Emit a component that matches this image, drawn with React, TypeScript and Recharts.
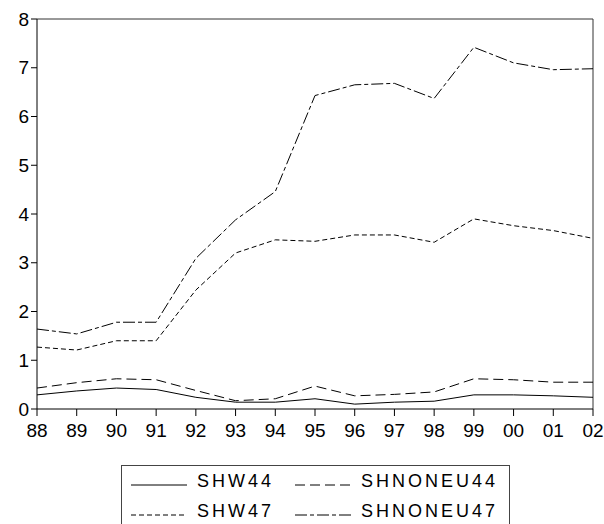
import React from "react";
import { LineChart, Line, XAxis, YAxis, ReferenceLine } from "recharts";

const years = ["88", "89", "90", "91", "92", "93", "94", "95", "96", "97", "98", "99", "00", "01", "02"];
const shw44 = [0.29, 0.37, 0.43, 0.4, 0.24, 0.14, 0.14, 0.21, 0.1, 0.14, 0.16, 0.29, 0.29, 0.27, 0.24];
const shw47 = [1.27, 1.21, 1.4, 1.4, 2.44, 3.2, 3.47, 3.44, 3.57, 3.57, 3.42, 3.9, 3.76, 3.66, 3.5];
const shnoneu44 = [0.43, 0.54, 0.62, 0.6, 0.38, 0.17, 0.21, 0.47, 0.27, 0.3, 0.35, 0.62, 0.6, 0.55, 0.55];
const shnoneu47 = [1.64, 1.54, 1.78, 1.78, 3.09, 3.88, 4.46, 6.43, 6.65, 6.68, 6.37, 7.42, 7.1, 6.96, 6.98];
const yTicks = [0, 1, 2, 3, 4, 5, 6, 7, 8];

const data = years.map((y, i) => ({
  year: y,
  SHW44: shw44[i],
  SHW47: shw47[i],
  SHNONEU44: shnoneu44[i],
  SHNONEU47: shnoneu47[i],
}));

const dashes: Record<string, string | undefined> = {
  SHW44: undefined,
  SHNONEU44: "10 5",
  SHW47: "5 3",
  SHNONEU47: "12 3 4 3",
};

// legend order: row by row, two columns
const legendRows = [
  ["SHW44", "SHNONEU44"],
  ["SHW47", "SHNONEU47"],
];

const font = "'Liberation Sans', Arial, sans-serif";
const tick = { fontSize: 19, fill: "#000", fontFamily: font };

const LegendItem = ({ name }: { name: string }) => (
  <div style={{ display: "flex", alignItems: "center", height: 30 }}>
    <svg width={56} height={18} style={{ marginRight: 10, display: "block" }}>
      <line x1={0} y1={13} x2={56} y2={13} stroke="#000" strokeWidth={1} strokeDasharray={dashes[name]} />
    </svg>
    <span style={{ fontSize: 18, letterSpacing: 3, fontFamily: font, color: "#000", width: 98, whiteSpace: "nowrap" }}>
      {name}
    </span>
  </div>
);

export default function App() {
  return (
    <div style={{ position: "absolute", left: 0, top: 0, width: 604, height: 524, background: "#fff", overflow: "hidden" }}>
      <LineChart width={604} height={524} data={data} margin={{ top: 19, right: 11, left: 0, bottom: 80 }}>
        <XAxis
          dataKey="year"
          height={35}
          stroke="#000"
          tickSize={7}
          tickMargin={8}
          tick={tick}
          interval={0}
        />
        <YAxis
          width={37}
          domain={[0, 8]}
          ticks={yTicks}
          stroke="#000"
          tickSize={6}
          tickMargin={2}
          tick={tick}
          interval={0}
        />
        <ReferenceLine y={8} stroke="#333" strokeWidth={1} />
        <ReferenceLine x="02" stroke="#333" strokeWidth={1} />
        {["SHW44", "SHNONEU44", "SHW47", "SHNONEU47"].map((k) => (
          <Line
            key={k}
            type="linear"
            dataKey={k}
            stroke="#000"
            strokeWidth={1}
            strokeDasharray={dashes[k]}
            dot={false}
            isAnimationActive={false}
          />
        ))}
      </LineChart>
      <div
        style={{
          position: "absolute",
          left: 121,
          top: 465,
          width: 389,
          height: 75,
          border: "1.5px solid #444",
          boxSizing: "border-box",
          padding: "0 0 0 9px",
        }}
      >
        {legendRows.map((row, i) => (
          <div key={i} style={{ display: "flex" }}>
            {row.map((n) => (
              <LegendItem key={n} name={n} />
            ))}
          </div>
        ))}
      </div>
    </div>
  );
}
